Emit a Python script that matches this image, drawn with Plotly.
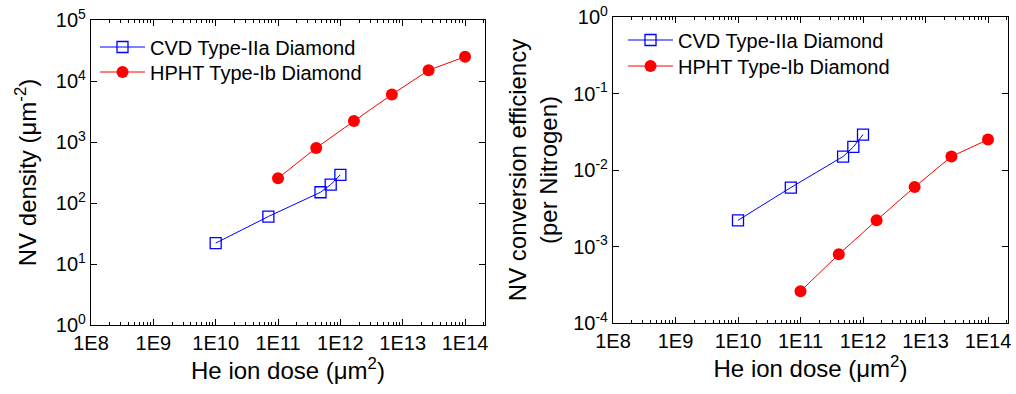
import plotly.graph_objects as go

# Left panel: NV density
cvd_dose = [1e10, 7e10, 4.8e11, 7e11, 1.0e12]
cvd_density = [22, 60, 150, 200, 290]
hpht_dose = [1.0e11, 4.1e11, 1.65e12, 6.7e12, 2.6e13, 1.0e14]
hpht_density = [255, 800, 2200, 6000, 15000, 25000]

# Right panel: NV conversion efficiency
cvd_eff = [2.2e-3, 5.9e-3, 1.5e-2, 2.0e-2, 2.9e-2]
hpht_eff = [2.6e-4, 7.9e-4, 2.2e-3, 6.0e-3, 1.5e-2, 2.5e-2]

x_tickvals = [1e8, 1e9, 1e10, 1e11, 1e12, 1e13, 1e14]
x_ticktext = ["1E8", "1E9", "1E10", "1E11", "1E12", "1E13", "1E14"]
y1_tickvals = [1, 10, 100, 1e3, 1e4, 1e5]
y1_ticktext = ["10<sup>%d</sup>" % i for i in range(0, 6)]
y2_tickvals = [1e-4, 1e-3, 1e-2, 1e-1, 1]
y2_ticktext = ["10<sup>-4</sup>", "10<sup>-3</sup>", "10<sup>-2</sup>", "10<sup>-1</sup>", "10<sup>0</sup>"]

names = ["CVD Type-IIa Diamond", "HPHT Type-Ib Diamond"]
BLUE = "#0000ff"
RED = "#ff0000"
FONT = "Liberation Sans, Arial, sans-serif"

W, H = 1016, 394
ML, MR, MT, MB = 91, 8, 17, 69
PW, PH = W - ML - MR, H - MT - MB


def px(x):
    return (x - ML) / PW


def py(y):
    return (H - MB - y) / PH


minor_vals = [m * 10 ** e for e in range(8, 15) for m in range(2, 10)]

cvd_marker = dict(symbol="square-open", size=11, color=BLUE, line=dict(width=1.3))
hpht_marker = dict(symbol="circle", size=12, color=RED)

fig = go.Figure()
fig.add_trace(go.Scatter(x=cvd_dose, y=cvd_density, mode="lines+markers", name=names[0],
                         line=dict(color=BLUE, width=1), marker=cvd_marker,
                         xaxis="x", yaxis="y", legend="legend"))
fig.add_trace(go.Scatter(x=hpht_dose, y=hpht_density, mode="lines+markers", name=names[1],
                         line=dict(color=RED, width=1), marker=hpht_marker,
                         xaxis="x", yaxis="y", legend="legend2"))
fig.add_trace(go.Scatter(x=cvd_dose, y=cvd_eff, mode="lines+markers", name=names[0],
                         line=dict(color=BLUE, width=1), marker=cvd_marker,
                         xaxis="x2", yaxis="y2", legend="legend3"))
fig.add_trace(go.Scatter(x=hpht_dose, y=hpht_eff, mode="lines+markers", name=names[1],
                         line=dict(color=RED, width=1), marker=hpht_marker,
                         xaxis="x2", yaxis="y2", legend="legend4"))


def xaxis(domain, anchor):
    return dict(type="log", domain=domain, anchor=anchor, range=[8, 14.32], automargin=False,
                tickmode="array", tickvals=x_tickvals, ticktext=x_ticktext,
                ticks="inside", ticklen=6, tickcolor="black", showline=True, linecolor="black",
                linewidth=1.2, mirror="allticks", showgrid=False, zeroline=False,
                tickfont=dict(size=20, color="black", family=FONT),
                title=dict(text="He ion dose (μm<sup>2</sup>)", font=dict(size=24, color="black", family=FONT), standoff=0),
                minor=dict(tickmode="array", tickvals=minor_vals, ticks="inside", ticklen=3,
                           tickcolor="black", showgrid=False))


def yaxis(domain, anchor, rng, tv, tt, title, standoff):
    return dict(type="log", domain=domain, anchor=anchor, range=rng, automargin=False,
                tickmode="array", tickvals=tv, ticktext=tt,
                ticks="inside", ticklen=6, tickcolor="black", showline=True, linecolor="black",
                linewidth=1.2, mirror="allticks", showgrid=False, zeroline=False,
                tickfont=dict(size=20, color="black", family=FONT),
                title=dict(text=title, font=dict(size=24, color="black", family=FONT), standoff=standoff))


def legend(x, y):
    return dict(x=px(x), y=py(y), xanchor="left", yanchor="middle",
                bgcolor="rgba(0,0,0,0)", font=dict(size=20, color="black", family=FONT),
                itemwidth=45, tracegroupgap=0)


fig.update_layout(
    width=W, height=H,
    margin=dict(l=ML, r=MR, t=MT, b=MB),
    paper_bgcolor="white", plot_bgcolor="white",
    font=dict(family=FONT, color="black"),
    xaxis=xaxis([px(91), px(485)], "y"),
    yaxis=yaxis([py(325), py(20)], "x", [0, 5], y1_tickvals, y1_ticktext,
                "NV density (μm<sup>-2</sup>)", 12),
    xaxis2=xaxis([px(613), px(1008)], "y2"),
    yaxis2=yaxis([py(323), py(17)], "x2", [-4, 0], y2_tickvals, y2_ticktext,
                 "NV conversion efficiency<br>(per Nitrogen)", 8),
    legend=legend(95, 47),
    legend2=legend(95, 72),
    legend3=legend(623, 40),
    legend4=legend(623, 66),
    showlegend=True,
)

fig.write_html("out.html", config={"displayModeBar": False},
               post_script="document.body.style.margin='0';document.body.style.padding='0';")
